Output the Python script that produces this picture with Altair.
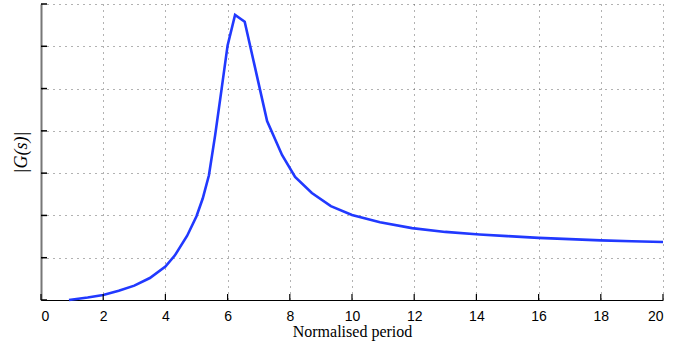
import altair as alt
import pandas as pd

period = [0.9, 1.5, 2.0, 2.5, 3.0, 3.5, 4.0, 4.3, 4.7, 5.0, 5.2, 5.4, 5.6, 5.8, 6.0,
          6.24, 6.55, 7.27, 7.75, 8.17, 8.71, 9.32, 10.0, 10.9, 11.93, 13.0, 14.1,
          15.0, 16.0, 17.0, 18.0, 19.0, 20.0]
gain = [0.0, 0.06, 0.12, 0.22, 0.34, 0.52, 0.79, 1.05, 1.52, 1.98, 2.4, 2.95, 3.9,
        4.95, 6.02, 6.74, 6.58, 4.23, 3.43, 2.91, 2.53, 2.22, 2.01, 1.84, 1.70, 1.61,
        1.55, 1.51, 1.47, 1.44, 1.41, 1.39, 1.37]
x_ticks = [0, 2, 4, 6, 8, 10, 12, 14, 16, 18, 20]
y_ticks = [0, 1, 2, 3, 4, 5, 6, 7]

df = pd.DataFrame({"period": period, "gain": gain})
xt = pd.DataFrame({"t": x_ticks})
yt = pd.DataFrame({"t": y_ticks})

xscale = alt.Scale(domain=[0, 20], nice=False, zero=False)
yscale = alt.Scale(domain=[0, 7], nice=False, zero=False)

line = alt.Chart(df).mark_line(color="#2139ff", strokeWidth=2.6).encode(
    x=alt.X("period:Q", scale=xscale,
            axis=alt.Axis(values=x_ticks, title="Normalised period", grid=True,
                          gridDash=[1, 5], gridColor="#555555", gridOpacity=0.9,
                          gridWidth=1, tickSize=0, labelPadding=9,
                          labelFont="Liberation Sans", labelFontSize=14, labelColor="black",
                          titleFont="Liberation Serif", titleFontSize=16,
                          titleFontWeight="normal", titleColor="black", titlePadding=0,
                          domainColor="black", domainWidth=1.2)),
    y=alt.Y("gain:Q", scale=yscale,
            axis=alt.Axis(values=y_ticks, title="|G(s)|", grid=True, labels=False,
                          gridDash=[1, 5], gridColor="#555555", gridOpacity=0.9,
                          gridWidth=1, tickSize=0,
                          titleFont="Liberation Serif", titleFontSize=18,
                          titleFontStyle="italic",
                          titleFontWeight="normal", titleColor="black", titlePadding=10,
                          domainColor="#777777", domainWidth=2)),
)

xtick_rules = alt.Chart(xt).mark_rule(color="black", strokeWidth=1.2).encode(
    x=alt.X("t:Q", scale=xscale), y=alt.value(296), y2=alt.value(290))
ytick_rules = alt.Chart(yt).mark_rule(color="black", strokeWidth=1.5).encode(
    y=alt.Y("t:Q", scale=yscale), x=alt.value(0), x2=alt.value(6))

chart = alt.layer(line, xtick_rules, ytick_rules).properties(
    width=622, height=296,
    padding={"left": 41, "top": 4, "right": 31, "bottom": 45},
    autosize=alt.AutoSizeParams(type="none"),
    background="white",
).configure_view(stroke=None)

chart.save("out.html", embed_options={"renderer": "svg", "actions": False})
